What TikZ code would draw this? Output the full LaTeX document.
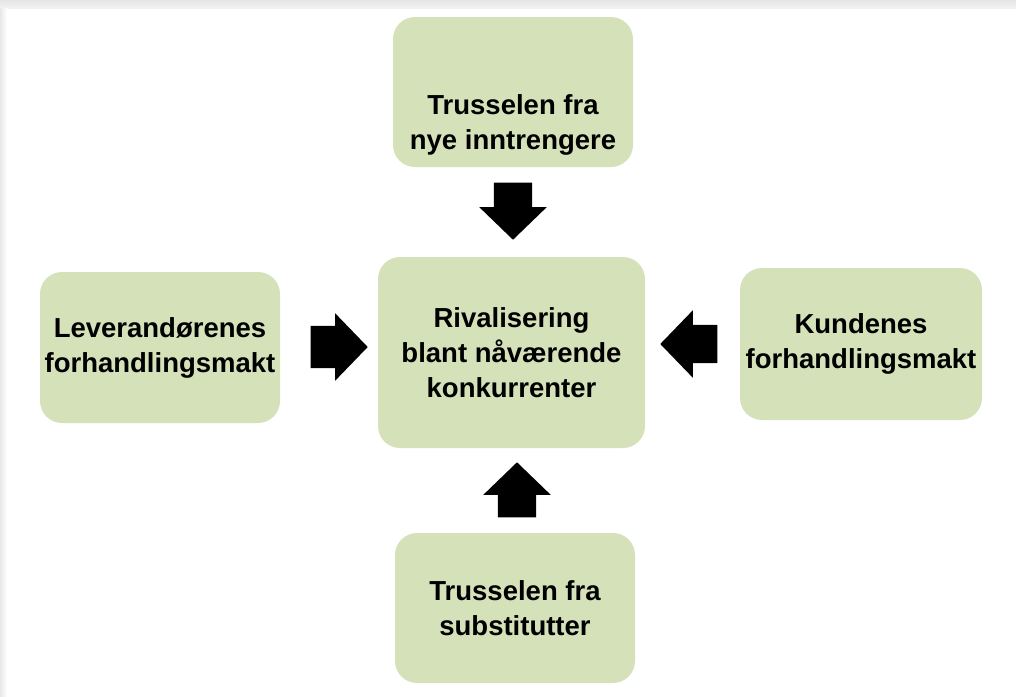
\documentclass[tikz,border=0pt]{standalone}
\usepackage{fontspec}
\setmainfont{Liberation Sans}
\usetikzlibrary{shapes.arrows}

\definecolor{boxgreen}{HTML}{D5E1B9}

\tikzset{
  force/.style={shape=rectangle, rounded corners=22pt, fill=boxgreen, align=center,
    font=\bfseries\fontsize{27.5}{35}\selectfont, inner sep=0pt,
    minimum width=240pt, minimum height=150pt},
  push/.style={shape=single arrow, fill=black, inner sep=0pt, text height=19pt, text depth=19pt,
    minimum height=57pt, single arrow head extend=14.5pt, single arrow tip angle=92, anchor=tip}
}

\begin{document}
\begin{tikzpicture}[x=1pt,y=-1pt]
					\useasboundingbox (0,0) rectangle (1016,696);
					% page shadow
					\shade[top color=black!10, bottom color=black!5] (0,0) rectangle (1016,8);
					\shade[left color=black!9, right color=white] (0,8) rectangle (7,696);
					
					\node[force, text height=115pt, text depth=0pt] (entrants) at (513,92) {Trusselen fra\\nye inntrengere};
					\node[force, minimum width=267pt, minimum height=191pt] (rivalry) at (511.5,352.5) {Rivalisering\\blant nåværende\\konkurrenter};
					\node[force, minimum height=151pt] (suppliers) at (160,347.5) {Leverandørenes\\forhandlingsmakt};
					\node[force, minimum width=242pt, minimum height=152pt] (buyers) at (861,344) {Kundenes\\forhandlingsmakt};
					\node[force] (substitutes) at (515,608) {Trusselen fra\\substitutter};
					
					% block arrows, placed by their tips
					\node[push, rotate=-90] (fromentrants) at (513,240) {};
					\node[push, rotate=90, minimum height=55pt] (fromsubstitutes) at (517,462) {};
					\node[push, text height=21pt, text depth=21pt, single arrow head extend=12.5pt] (fromsuppliers) at (368,347) {};
					\node[push, rotate=180] (frombuyers) at (660,344) {};
					\end{tikzpicture}
\end{document}
